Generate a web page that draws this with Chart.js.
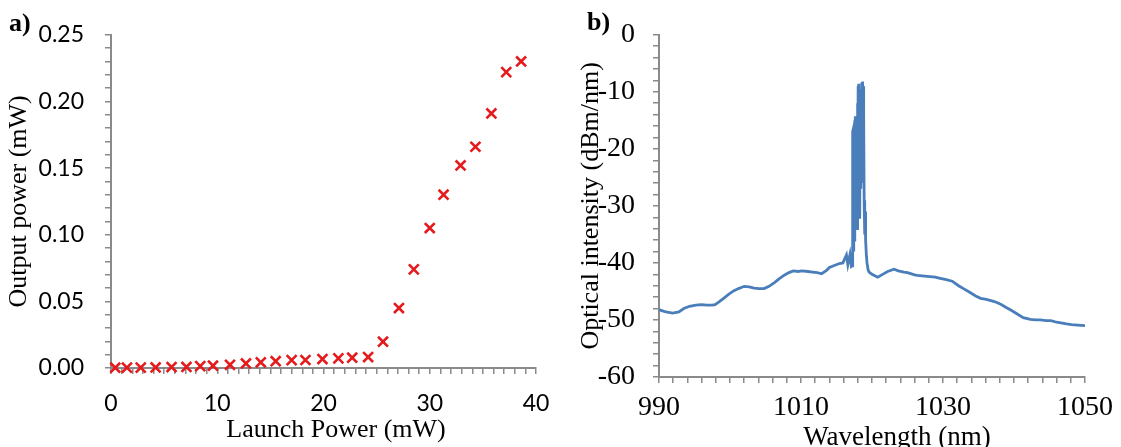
<!DOCTYPE html>
<html>
<head>
<meta charset="utf-8">
<script src="https://cdn.jsdelivr.net/npm/chart.js@4/dist/chart.umd.min.js"></script>
<style>
  html, body { margin: 0; padding: 0; background: #fff; }
  #wrap { position: relative; width: 1121px; height: 447px; overflow: hidden; }
  canvas { position: absolute; top: 0; }
  #chartA { left: 0; }
  #chartB { left: 570px; }
</style>
</head>
<body>
<div id="wrap">
  <canvas id="chartA" width="570" height="447"></canvas>
  <canvas id="chartB" width="551" height="447"></canvas>
</div>
<script>
'use strict';
// a) launch power vs output power
const launchPower = [0.4, 1.5, 2.8, 4.2, 5.7, 7.1, 8.4, 9.6, 11.2, 12.7, 14.1, 15.5, 17.0, 18.3,
    19.9, 21.4, 22.7, 24.2, 25.6, 27.1, 28.5, 30.0, 31.3, 32.9, 34.3, 35.8, 37.2, 38.6];
const outputPower = [0.0002, 0.0003, 0.0003, 0.0004, 0.0007, 0.0008, 0.0014, 0.0017, 0.0024, 0.0034,
    0.0043, 0.0051, 0.0059, 0.0060, 0.0067, 0.0072, 0.0077, 0.0082, 0.0197, 0.0450, 0.0740, 0.1050,
    0.1300, 0.1520, 0.1660, 0.1910, 0.2220, 0.2300];

// b) optical spectrum (denser around the lasing peak)
const wavelength = [990.0, 990.5, 991.0, 991.9, 992.8, 993.5, 994.3, 995.2, 996.0, 996.7, 997.5, 997.9,
    998.5, 999.1, 999.8, 1000.5, 1001.2, 1002.0, 1002.7, 1003.4, 1004.1, 1004.8, 1005.5, 1006.3, 1007.0,
    1007.7, 1008.3, 1008.9, 1009.6, 1010.1, 1011.0, 1011.6, 1012.3, 1012.9, 1013.6, 1014.0, 1014.6, 1015.4,
    1015.9, 1016.4, 1016.6, 1016.9, 1017.1, 1017.2,
    1017.25, 1017.30, 1017.35, 1017.40, 1017.45, 1017.50, 1017.55, 1017.60, 1017.65, 1017.70, 1017.75,
    1017.80, 1017.85, 1017.90, 1017.95, 1018.00, 1018.05, 1018.10, 1018.15, 1018.20, 1018.25, 1018.30,
    1018.35, 1018.40, 1018.45, 1018.50, 1018.55, 1018.60, 1018.65, 1018.70, 1018.75, 1018.80, 1018.85,
    1018.90, 1018.95, 1019.00, 1019.05, 1019.10, 1019.20, 1019.30, 1019.45,
    1019.6, 1020.0, 1020.8, 1021.5, 1022.2, 1023.1, 1023.7, 1024.5, 1025.0, 1026.0, 1026.4, 1027.4, 1028.2,
    1028.9, 1029.6, 1030.3, 1031.3, 1032.2, 1033.0, 1033.7, 1034.6, 1035.3, 1036.1, 1037.0, 1037.5, 1038.2,
    1038.9, 1039.6, 1040.4, 1041.3, 1042.3, 1043.0, 1043.7, 1044.5, 1045.2, 1046.0, 1046.6, 1047.4, 1048.1,
    1049.0, 1050.0];
const intensity = [-48.2, -48.4, -48.6, -48.8, -48.6, -48.0, -47.6, -47.4, -47.3, -47.4, -47.4, -47.3,
    -46.8, -46.2, -45.5, -44.9, -44.5, -44.1, -44.2, -44.4, -44.5, -44.5, -44.1, -43.4, -42.7,
    -42.1, -41.7, -41.4, -41.5, -41.4, -41.5, -41.6, -41.7, -41.9, -41.3, -40.8, -40.5, -40.1,
    -40.0, -38.6, -40.3, -38.5, -40.6, -40.5,
    -38.0, -17.0, -16.6, -38.0, -17.5, -36.0, -15.0, -33.0, -14.3, -30.0, -14.5,
    -28.0, -15.4, -34.0, -12.0, -30.0, -9.0, -26.0, -8.6, -32.0, -10.0, -30.0,
    -11.0, -27.0, -9.5, -24.0, -8.4, -20.0, -8.2, -22.0, -9.0, -26.0, -14.0,
    -30.0, -29.0, -35.0, -31.0, -36.0, -38.5, -40.0, -41.2,
    -41.6, -42.0, -42.5, -42.0, -41.5, -41.1, -41.4, -41.6, -41.7, -42.1, -42.2, -42.3, -42.4,
    -42.5, -42.7, -42.9, -43.2, -44.0, -44.6, -45.1, -45.8, -46.2, -46.4, -46.7, -46.9, -47.3,
    -47.8, -48.3, -48.9, -49.6, -49.9, -50.0, -50.0, -50.1, -50.1, -50.4, -50.5, -50.7, -50.8,
    -50.9, -51.0];

const axisGrey = '#8a8a8a';
const serif = '"Liberation Serif", "Times New Roman", serif';

// draws panel letters and the x axis titles
const extraText = {
    id: 'extraText',
    afterDraw(chart, args, opts) {
        const ctx = chart.ctx;
        ctx.save();
        ctx.fillStyle = '#000';
        ctx.textBaseline = 'alphabetic';
        opts.items.forEach(it => {
            ctx.font = it.font;
            ctx.textAlign = it.align;
            ctx.fillText(it.text, it.x, it.y);
        });
        ctx.restore();
    }
};

function axisBase(min, max, step, fontSpec, pad) {
    return {
        type: 'linear',
        min: min,
        max: max,
        border: { color: axisGrey, width: 2 },
        grid: { drawOnChartArea: false, drawTicks: true, tickLength: 6, color: axisGrey, lineWidth: 1.5 },
        ticks: { stepSize: step, autoSkip: false, color: '#000', font: fontSpec, padding: pad }
    };
}

// chart a
const ax = axisBase(0, 40, 1, { family: 'Lato', size: 23 }, 16);
ax.ticks.maxRotation = 0;
ax.ticks.callback = v => (v % 10 === 0 ? String(v) : '');
ax.afterFit = s => { s.height = 79; };

const ay = axisBase(0, 0.25, 0.01, { family: 'Lato', size: 23 }, 21);
ay.ticks.callback = v => (Math.round(v * 100) % 5 === 0 ? v.toFixed(2) : '');
ay.afterFit = s => { s.width = 111; };
ay.title = { display: true, text: 'Output power (mW)', color: '#000',
    font: { family: serif, size: 26 }, padding: { top: 4, bottom: 0 } };

new Chart(document.getElementById('chartA'), {
    type: 'scatter',
    data: {
        datasets: [{
            data: launchPower.map((x, i) => ({ x: x, y: outputPower[i] })),
            pointStyle: 'crossRot',
            pointRadius: 7,
            pointBorderWidth: 2.6,
            borderColor: 'rgb(228,26,28)',
            backgroundColor: 'rgb(228,26,28)',
            clip: false
        }]
    },
    options: {
        responsive: false,
        animation: false,
        layout: { padding: { top: 22, right: 34, left: 0, bottom: 0 } },
        scales: { x: ax, y: ay },
        plugins: {
            legend: { display: false },
            tooltip: { enabled: false },
            extraText: {
                items: [
                    { text: 'a)', x: 9, y: 31, align: 'left', font: 'bold 26px ' + serif },
                    { text: 'Launch Power (mW)', x: 336, y: 437, align: 'center', font: '26px ' + serif }
                ]
            }
        }
    },
    plugins: [extraText]
});

// chart b
const bx = axisBase(990, 1050, 2, { family: serif, size: 28 }, 8);
bx.ticks.maxRotation = 0;
bx.ticks.callback = v => ((v - 990) % 20 === 0 ? String(v) : '');
bx.afterFit = s => { s.height = 70; };

const by = axisBase(-60, 0, 2, { family: serif, size: 28 }, 18);
by.ticks.callback = v => (v % 10 === 0 ? String(v) : '');
by.afterFit = s => { s.width = 89; };
by.title = { display: true, text: 'Optical intensity (dBm/nm)', color: '#000',
    font: { family: serif, size: 26 }, padding: { top: 6, bottom: 0 } };

new Chart(document.getElementById('chartB'), {
    type: 'line',
    data: {
        datasets: [{
            data: wavelength.map((x, i) => ({ x: x, y: intensity[i] })),
            borderColor: 'rgb(74,126,187)',
            borderWidth: 2.8,
            pointRadius: 0,
            tension: 0,
            fill: false
        }]
    },
    options: {
        responsive: false,
        animation: false,
        layout: { padding: { top: 22, right: 31, left: 0, bottom: 0 } },
        scales: { x: bx, y: by },
        plugins: {
            legend: { display: false },
            tooltip: { enabled: false },
            extraText: {
                items: [
                    { text: 'b)', x: 17, y: 30, align: 'left', font: 'bold 26px ' + serif },
                    { text: 'Wavelength (nm)', x: 327, y: 445, align: 'center', font: '27px ' + serif }
                ]
            }
        }
    },
    plugins: [extraText]
});
</script>
</body>
</html>
